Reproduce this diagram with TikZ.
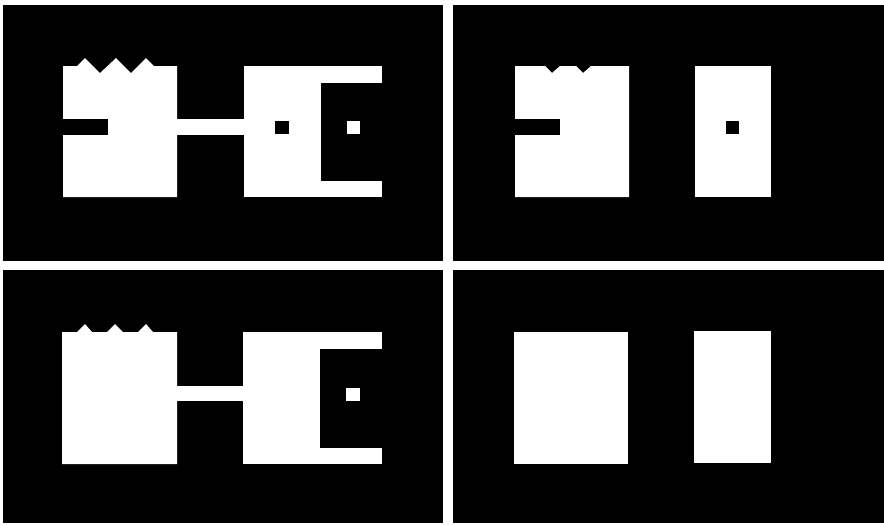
\documentclass[tikz,border=0pt]{standalone}
\usepackage{tikz}
\usepackage{xcolor}

\begin{document}
\begin{tikzpicture}[x=0.5pt, y=-0.5pt,
    panel/.style={fill=black},
    solid part/.style={fill=white},
    hole/.style={fill=black}]
  % Page (white gaps between panels)
  \fill[white] (0,0) rectangle (884,525);
  \useasboundingbox (0,0) rectangle (884,525);

  % Top left panel: original figure
  \fill[panel] (3,5) rectangle (443,261);
  \fill[solid part] (63,197) -- (63,66) -- (77,66) -- (85,58) -- (100,73) -- (116,58)
                   -- (131,73) -- (146,58) -- (154,66) -- (177,66) -- (177,197) -- cycle;
  \fill[hole]       (63,119) rectangle (108,135);
  \fill[solid part] (177,119) rectangle (244,135);
  \fill[solid part] (244,66) rectangle (382,197);
  \fill[hole]       (321,83) rectangle (382,181);
  \fill[hole]       (275,121) rectangle (289,134);
  \fill[solid part] (347,121) rectangle (360,134);

  % Top right panel
  \fill[panel] (453,5) rectangle (884,261);
  \fill[solid part] (515,197) -- (515,66) -- (545,66) -- (552,73) -- (560,66) -- (576,66)
                   -- (583,73) -- (591,66) -- (629,66) -- (629,197) -- cycle;
  \fill[hole]       (515,119) rectangle (560,135);
  \fill[solid part] (695,66) rectangle (771,197);
  \fill[hole]       (726,121) rectangle (739,134);

  % Bottom left panel
  \fill[panel] (3,270) rectangle (443,523);
  \fill[solid part] (62,464) -- (62,332) -- (77,332) -- (85,324) -- (92,332) -- (107,332)
                   -- (115,324) -- (123,332) -- (138,332) -- (146,324) -- (153,332)
                   -- (177,332) -- (177,464) -- cycle;
  \fill[solid part] (177,386) rectangle (243,401);
  \fill[solid part] (243,332) rectangle (382,464);
  \fill[hole]       (320,349) rectangle (382,448);
  \fill[solid part] (346,388) rectangle (360,401);

  % Bottom right panel
  \fill[panel] (453,270) rectangle (884,523);
  \fill[solid part] (514,332) rectangle (628,464);
  \fill[solid part] (694,331) rectangle (771,463);
\end{tikzpicture}
\end{document}
